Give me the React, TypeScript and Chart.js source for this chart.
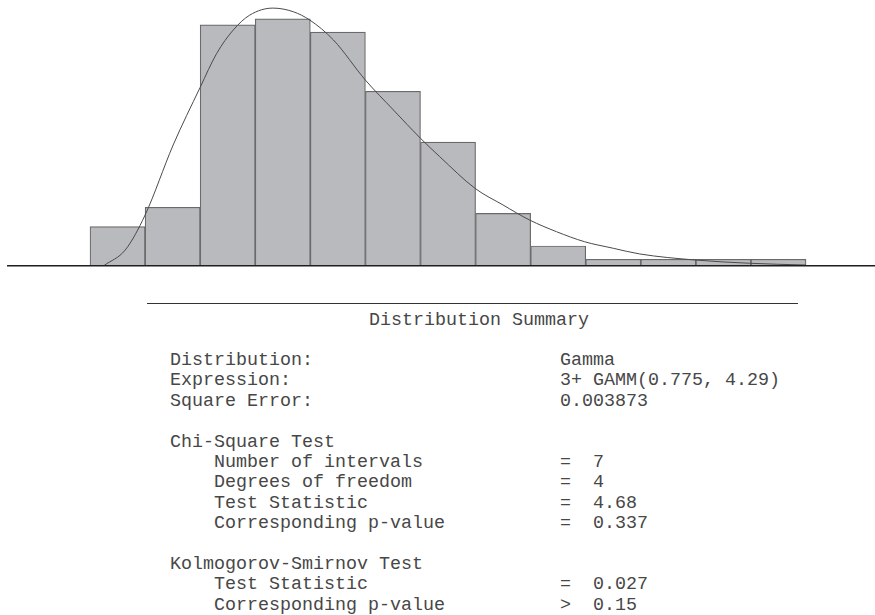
import React, { useEffect, useRef } from 'react';
import { Chart, registerables } from 'chart.js';

Chart.register(...registerables);

// Histogram: bins expressed in bin-index units (bin i spans [i, i+1])
const binCenters = [0.5, 1.5, 2.5, 3.5, 4.5, 5.5, 6.5, 7.5, 8.5, 9.5, 10.5, 11.5, 12.5];
const binFreq = [0.032, 0.048, 0.199, 0.204, 0.193, 0.144, 0.102, 0.043, 0.016, 0.005, 0.005, 0.005, 0.005];

// Fitted density curve (same units)
const curveX = [0.26, 0.64, 1.0, 1.51, 2.0, 2.3, 2.6, 2.9, 3.32, 3.69, 3.99, 4.42, 5.0, 5.51, 6.0, 6.35, 6.99, 7.5, 7.98, 8.47, 8.98, 9.5, 9.98, 10.98, 11.97, 13.0];
const curveY = [0.0, 0.0127, 0.0416, 0.0996, 0.1473, 0.1754, 0.1947, 0.2071, 0.2129, 0.2099, 0.203, 0.1865, 0.1533, 0.1285, 0.1051, 0.0899, 0.0637, 0.0499, 0.0375, 0.0278, 0.0195, 0.0141, 0.0094, 0.0044, 0.0017, 0.0002];

// Axis range
const xMin = -1.489;
const xMax = 14.252;
const yMax = 0.2196;

// Summary text
const summaryTitle = 'Distribution Summary';
const labelLines = [
  'Distribution:',
  'Expression:',
  'Square Error:',
  '',
  'Chi-Square Test',
  '    Number of intervals',
  '    Degrees of freedom',
  '    Test Statistic',
  '    Corresponding p-value',
  '',
  'Kolmogorov-Smirnov Test',
  '    Test Statistic',
  '    Corresponding p-value',
];
const valueLines = [
  'Gamma',
  '3+ GAMM(0.775, 4.29)',
  '0.003873',
  '',
  '',
  '=  7',
  '=  4',
  '=  4.68',
  '=  0.337',
  '',
  '',
  '=  0.027',
  '>  0.15',
];

const MONO = "'Liberation Mono', 'Courier New', monospace";
const ROW_H = 20.4;

export default function App() {
  const canvasRef = useRef<HTMLCanvasElement | null>(null);

  useEffect(() => {
    const canvas = canvasRef.current;
    if (!canvas) return;
    const chart = new Chart(canvas, {
      type: 'bar',
      data: {
        datasets: [
          {
            type: 'line',
            data: curveX.map((x, i) => ({ x, y: curveY[i] })),
            borderColor: '#4a4a4a',
            borderWidth: 1,
            pointRadius: 0,
            fill: false,
            cubicInterpolationMode: 'monotone',
            clip: false,
            order: 0,
          } as any,
          {
            type: 'bar',
            data: binCenters.map((x, i) => ({ x, y: binFreq[i] })),
            backgroundColor: '#b9babe',
            borderColor: '#6a6a6a',
            borderWidth: 1.2,
            barPercentage: 1,
            categoryPercentage: 1,
            order: 1,
          } as any,
        ],
      },
      options: {
        animation: false,
        responsive: false,
        devicePixelRatio: 1,
        layout: { padding: { left: 8, right: 0, top: 0, bottom: 6.7 } },
        plugins: { legend: { display: false }, tooltip: { enabled: false } },
        scales: {
          x: {
            type: 'linear',
            min: xMin,
            max: xMax,
            offset: false,
            grid: { display: false, drawTicks: false },
            ticks: { display: false },
            border: { display: true, color: '#1e1e1e', width: 1.5, z: 2 } as any,
          },
          y: {
            display: false,
            min: 0,
            max: yMax,
          },
        },
      },
    });
    return () => chart.destroy();
  }, []);

  const textStyle: React.CSSProperties = {
    position: 'absolute',
    margin: 0,
    fontFamily: MONO,
    fontSize: '18.33px',
    lineHeight: `${ROW_H}px`,
    color: '#474747',
    whiteSpace: 'pre',
  };

  return (
    <div style={{ position: 'absolute', left: 0, top: 0, width: 875, height: 615, overflow: 'hidden', background: '#fff' }}>
      <canvas ref={canvasRef} width={875} height={272} style={{ position: 'absolute', left: 0, top: 0, width: 875, height: 272 }} />
      <div style={{ position: 'absolute', left: 147, top: 302.5, width: 651, height: 1.5, background: '#333' }} />
      <pre style={{ ...textStyle, left: 369, top: 311 }}>{summaryTitle}</pre>
      <pre style={{ ...textStyle, left: 170, top: 351 }}>{labelLines.join('\n')}</pre>
      <pre style={{ ...textStyle, left: 560, top: 351 }}>{valueLines.join('\n')}</pre>
    </div>
  );
}
